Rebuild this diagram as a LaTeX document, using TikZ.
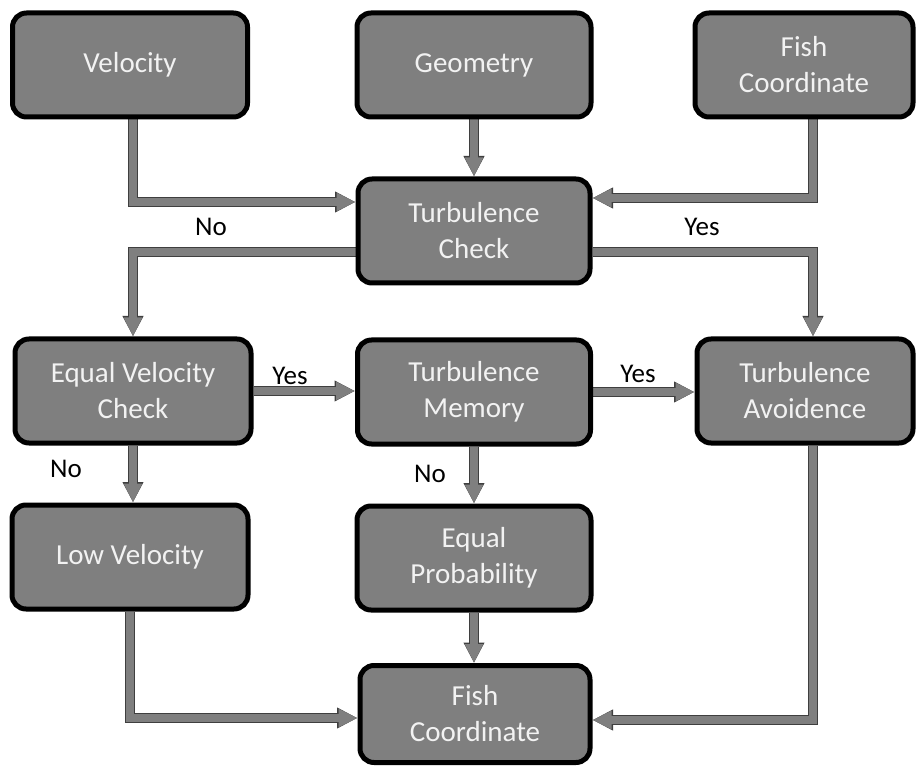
\documentclass[tikz,border=0pt]{standalone}
\usepackage{fontspec}
\setmainfont{Carlito}
\usepackage{xcolor}
\usetikzlibrary{arrows.meta,positioning}

\definecolor{boxgray}{HTML}{7F7F7F}
\definecolor{boxtext}{HTML}{F2F2F2}
\definecolor{flowedge}{HTML}{3F3F3F}
\pgfdeclarelayer{bg}
\pgfsetlayers{bg,main}

\tikzset{
  block/.style={draw=black, line width=5pt, fill=boxgray, rounded corners=14pt,
    text=boxtext, align=center, inner sep=0pt, minimum height=104pt,
    font=\fontsize{29}{36}\selectfont},
  flow/.style={draw=boxgray, line width=8pt, -{Triangle[length=19pt,width=17pt]},
    preaction={draw=flowedge, line width=9.6pt, -{Triangle[length=20.5pt,width=19.5pt]}}},
  lbl/.style={text=black, font=\fontsize{27}{33}\selectfont}
}

\begin{document}
\begin{tikzpicture}[x=1pt,y=-1pt]
  \useasboundingbox (0,0) rectangle (919,767);
  % Inputs
  \node[block, minimum width=235pt] (vel) at (130,65) {Velocity};
  \node[block, minimum width=234pt] (geo) at (474,65) {Geometry};
  \node[block, minimum width=218pt] (fishin) at (804,65) {Fish\\Coordinate};
  % Checks
  \node[block, minimum width=232pt] (tc) at (474,231) {Turbulence\\Check};
  \node[block, minimum width=236pt] (evc) at (133,391) {Equal Velocity\\Check};
  \node[block, minimum width=233pt] (tm) at (474,392) {Turbulence\\Memory};
  \node[block, minimum width=216pt] (ta) at (805,391) {Turbulence\\Avoidence};
  % Outcomes
  \node[block, minimum width=236pt] (lv) at (130,557) {Low Velocity};
  \node[block, minimum width=234pt] (ep) at (474,558) {Equal\\Probability};
  \node[block, minimum width=230pt, minimum height=97pt] (fishout) at (475,714) {Fish\\Coordinate};
  % Connectors
  \begin{pgfonlayer}{bg}
    \draw[flow] ([xshift=3pt]vel.south) |- ([yshift=29pt]tc.west);
    \draw[flow] (geo.south) -- (tc.north);
    \draw[flow] ([xshift=9pt]fishin.south) |- ([yshift=33pt]tc.east);
    \draw[flow] ([yshift=-21pt]tc.west) -| (evc.north);
    \draw[flow] ([yshift=-21pt]tc.east) -| ([xshift=8pt]ta.north);
    \draw[flow] (evc.east) -- (evc.east -| tm.west);
    \draw[flow] (tm.east) -- (tm.east -| ta.west);
    \draw[flow] (evc.south) -- (evc.south |- lv.north);
    \draw[flow] (tm.south) -- (ep.north);
    \draw[flow] (lv.south) |- ([yshift=-4pt]fishout.west);
    \draw[flow] (ep.south) -- (ep.south |- fishout.north);
    \draw[flow] ([xshift=8pt]ta.south) |- ([yshift=-6pt]fishout.east);
  \end{pgfonlayer}
  % Labels
  \node[lbl] (no1) at (211,227) {No};
  \node[lbl] (yes1) at (702,227) {Yes};
  \node[lbl] (yes2) at (290,376) {Yes};
  \node[lbl] (yes3) at (638,374) {Yes};
  \node[lbl] (no2) at (66,469) {No};
  \node[lbl] (no3) at (430,474) {No};
\end{tikzpicture}
\end{document}
